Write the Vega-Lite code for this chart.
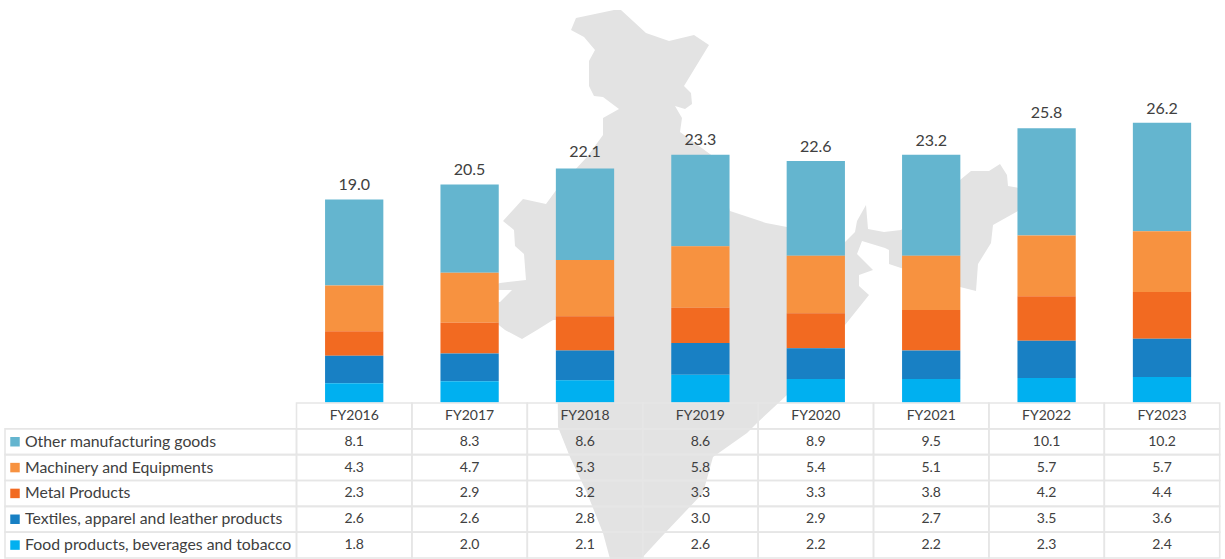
{
"$schema":"https://vega.github.io/schema/vega-lite/v6.json",
"width":1225,"height":559,"padding":0,
"autosize":{"type":"fit","contains":"padding"},
"background":"white",
"config":{"view":{"stroke":null}},
"datasets":{
"rows":[
{"fy":"FY2016","series":"Other manufacturing goods","rank":5,"value":8.1},
{"fy":"FY2016","series":"Machinery and Equipments","rank":4,"value":4.3},
{"fy":"FY2016","series":"Metal Products","rank":3,"value":2.3},
{"fy":"FY2016","series":"Textiles, apparel and leather products","rank":2,"value":2.6},
{"fy":"FY2016","series":"Food products, beverages and tobacco","rank":1,"value":1.8},
{"fy":"FY2017","series":"Other manufacturing goods","rank":5,"value":8.3},
{"fy":"FY2017","series":"Machinery and Equipments","rank":4,"value":4.7},
{"fy":"FY2017","series":"Metal Products","rank":3,"value":2.9},
{"fy":"FY2017","series":"Textiles, apparel and leather products","rank":2,"value":2.6},
{"fy":"FY2017","series":"Food products, beverages and tobacco","rank":1,"value":2.0},
{"fy":"FY2018","series":"Other manufacturing goods","rank":5,"value":8.6},
{"fy":"FY2018","series":"Machinery and Equipments","rank":4,"value":5.3},
{"fy":"FY2018","series":"Metal Products","rank":3,"value":3.2},
{"fy":"FY2018","series":"Textiles, apparel and leather products","rank":2,"value":2.8},
{"fy":"FY2018","series":"Food products, beverages and tobacco","rank":1,"value":2.1},
{"fy":"FY2019","series":"Other manufacturing goods","rank":5,"value":8.6},
{"fy":"FY2019","series":"Machinery and Equipments","rank":4,"value":5.8},
{"fy":"FY2019","series":"Metal Products","rank":3,"value":3.3},
{"fy":"FY2019","series":"Textiles, apparel and leather products","rank":2,"value":3.0},
{"fy":"FY2019","series":"Food products, beverages and tobacco","rank":1,"value":2.6},
{"fy":"FY2020","series":"Other manufacturing goods","rank":5,"value":8.9},
{"fy":"FY2020","series":"Machinery and Equipments","rank":4,"value":5.4},
{"fy":"FY2020","series":"Metal Products","rank":3,"value":3.3},
{"fy":"FY2020","series":"Textiles, apparel and leather products","rank":2,"value":2.9},
{"fy":"FY2020","series":"Food products, beverages and tobacco","rank":1,"value":2.2},
{"fy":"FY2021","series":"Other manufacturing goods","rank":5,"value":9.5},
{"fy":"FY2021","series":"Machinery and Equipments","rank":4,"value":5.1},
{"fy":"FY2021","series":"Metal Products","rank":3,"value":3.8},
{"fy":"FY2021","series":"Textiles, apparel and leather products","rank":2,"value":2.7},
{"fy":"FY2021","series":"Food products, beverages and tobacco","rank":1,"value":2.2},
{"fy":"FY2022","series":"Other manufacturing goods","rank":5,"value":10.1},
{"fy":"FY2022","series":"Machinery and Equipments","rank":4,"value":5.7},
{"fy":"FY2022","series":"Metal Products","rank":3,"value":4.2},
{"fy":"FY2022","series":"Textiles, apparel and leather products","rank":2,"value":3.5},
{"fy":"FY2022","series":"Food products, beverages and tobacco","rank":1,"value":2.3},
{"fy":"FY2023","series":"Other manufacturing goods","rank":5,"value":10.2},
{"fy":"FY2023","series":"Machinery and Equipments","rank":4,"value":5.7},
{"fy":"FY2023","series":"Metal Products","rank":3,"value":4.4},
{"fy":"FY2023","series":"Textiles, apparel and leather products","rank":2,"value":3.6},
{"fy":"FY2023","series":"Food products, beverages and tobacco","rank":1,"value":2.4}
],
"totals":[
{"fy":"FY2016","total":19.0},{"fy":"FY2017","total":20.5},{"fy":"FY2018","total":22.1},{"fy":"FY2019","total":23.3},
{"fy":"FY2020","total":22.6},{"fy":"FY2021","total":23.2},{"fy":"FY2022","total":25.8},{"fy":"FY2023","total":26.2}
],
"names":[
{"series":"Other manufacturing goods"},{"series":"Machinery and Equipments"},{"series":"Metal Products"},
{"series":"Textiles, apparel and leather products"},{"series":"Food products, beverages and tobacco"}
]
},
"resolve":{"scale":{"x":"independent","y":"independent"}},
"layer":[
{"data":{"values":{"type":"Feature","properties":{"name":"India"},"geometry":{"type":"Polygon","coordinates":[[
[61.4,1.0],[62.1,1.0],[64.6,3.3],[66.9,4.1],[69.4,3.5],[70.9,4.5],[68.4,8.6],[69.1,9.3],[69.2,10.4],[68.5,10.9],[67.5,10.6],[68.2,11.8],[68.0,13.2],[71.4,15.7],[73.0,21.1],[76.6,22.3],[78.7,22.7],[84.4,24.3],[85.5,23.2],[85.7,22.1],[86.6,20.5],[86.8,22.9],[88.4,23.2],[90.1,23.0],[96.0,18.0],[97.1,17.1],[98.9,17.1],[100.0,16.4],[100.7,17.5],[100.8,18.6],[103.0,19.0],[101.8,21.1],[99.3,22.5],[99.1,24.3],[97.8,26.4],[97.6,29.1],[96.0,28.7],[90.1,26.8],[88.9,26.4],[88.9,25.0],[88.5,24.8],[86.2,24.1],[85.7,25.4],[87.3,27.0],[85.9,27.5],[85.9,28.6],[86.9,29.5],[84.5,32.5],[78.7,39.5],[75.7,42.3],[74.7,43.3],[71.3,45.7],[70.3,49.3],[66.5,53.3],[64.0,56.0],[64.0,57.0],[61.3,57.0],[60.3,53.3],[58.7,49.3],[57.0,45.7],[55.8,42.7],[55.7,32.0],[55.3,32.0],[53.7,33.0],[52.2,33.9],[50.5,33.0],[48.0,31.0],[47.0,30.2],[50.0,30.2],[51.2,29.0],[48.0,29.0],[50.0,28.3],[52.6,28.0],[52.4,25.4],[51.5,24.6],[51.4,23.0],[50.3,22.1],[52.3,19.9],[54.6,20.4],[55.7,18.9],[58.7,15.7],[60.3,13.5],[60.3,11.8],[61.9,10.9],[60.3,9.7],[59.4,9.6],[58.9,8.6],[58.9,6.1],[59.5,5.0],[58.4,3.7],[57.1,3.0],[57.6,1.8],[61.4,1.0]
]]}}},
"mark":{"type":"geoshape","fill":"#E3E3E3","stroke":null,"clip":true},
"projection":{"type":"identity","scale":10,"translate":[0,0]}},
{"data":{"name":"rows"},
"mark":{"type":"bar","width":{"band":0.505}},
"encoding":{
"x":{"field":"fy","type":"nominal","axis":null,"scale":{"range":[296.5,1219.7],"paddingInner":0,"paddingOuter":0}},
"y":{"field":"value","type":"quantitative","stack":"zero","axis":null,"scale":{"domain":[0,37.85],"nice":false,"range":[402.5,0]}},
"color":{"field":"series","type":"nominal","legend":null,"scale":{"domain":["Other manufacturing goods","Machinery and Equipments","Metal Products","Textiles, apparel and leather products","Food products, beverages and tobacco"],"range":["#64B5CF","#F79240","#F26A21","#1880C4","#00B0F0"]}},
"order":{"field":"rank","type":"quantitative"}}},
{"data":{"name":"totals"},
"mark":{"type":"text","font":"Lato","fontSize":16,"color":"#404040","baseline":"bottom","dy":-7},
"encoding":{
"x":{"field":"fy","type":"nominal","axis":null,"scale":{"range":[296.5,1219.7],"paddingInner":0,"paddingOuter":0}},
"y":{"field":"total","type":"quantitative","axis":null,"scale":{"domain":[0,37.85],"nice":false,"range":[402.5,0]}},
"text":{"field":"total","type":"quantitative","format":".1f"}}},
{"data":{"name":"rows"},
"mark":{"type":"rect","fill":"transparent","stroke":"#E6E6E6","strokeWidth":1.6},
"encoding":{
"x":{"field":"fy","type":"nominal","axis":null,"scale":{"range":[296.5,1219.7],"paddingInner":0,"paddingOuter":0}},
"y":{"field":"series","type":"nominal","axis":null,"scale":{"domain":["Fiscal year","Other manufacturing goods","Machinery and Equipments","Metal Products","Textiles, apparel and leather products","Food products, beverages and tobacco"],"range":[403,558],"paddingInner":0,"paddingOuter":0}}}},
{"data":{"name":"totals"},
"mark":{"type":"rect","fill":"transparent","stroke":"#E6E6E6","strokeWidth":1.6},
"encoding":{
"x":{"field":"fy","type":"nominal","axis":null,"scale":{"range":[296.5,1219.7],"paddingInner":0,"paddingOuter":0}},
"y":{"datum":"Fiscal year","type":"nominal","axis":null,"scale":{"domain":["Fiscal year","Other manufacturing goods","Machinery and Equipments","Metal Products","Textiles, apparel and leather products","Food products, beverages and tobacco"],"range":[403,558],"paddingInner":0,"paddingOuter":0}}}},
{"data":{"name":"names"},
"mark":{"type":"rect","fill":"transparent","stroke":"#E6E6E6","strokeWidth":1.6},
"encoding":{
"x":{"datum":"Series","type":"nominal","axis":null,"scale":{"domain":["Series"],"range":[5,296.5],"paddingInner":0,"paddingOuter":0}},
"y":{"field":"series","type":"nominal","axis":null,"scale":{"domain":["Fiscal year","Other manufacturing goods","Machinery and Equipments","Metal Products","Textiles, apparel and leather products","Food products, beverages and tobacco"],"range":[403,558],"paddingInner":0,"paddingOuter":0}}}},
{"data":{"name":"rows"},
"mark":{"type":"text","font":"Lato","fontSize":14,"color":"#404040"},
"encoding":{
"x":{"field":"fy","type":"nominal","axis":null,"scale":{"range":[296.5,1219.7],"paddingInner":0,"paddingOuter":0}},
"y":{"field":"series","type":"nominal","axis":null,"scale":{"domain":["Fiscal year","Other manufacturing goods","Machinery and Equipments","Metal Products","Textiles, apparel and leather products","Food products, beverages and tobacco"],"range":[403,558],"paddingInner":0,"paddingOuter":0}},
"text":{"field":"value","type":"quantitative","format":".1f"}}},
{"data":{"name":"totals"},
"mark":{"type":"text","font":"Lato","fontSize":14,"color":"#404040"},
"encoding":{
"x":{"field":"fy","type":"nominal","axis":null,"scale":{"range":[296.5,1219.7],"paddingInner":0,"paddingOuter":0}},
"y":{"datum":"Fiscal year","type":"nominal","axis":null,"scale":{"domain":["Fiscal year","Other manufacturing goods","Machinery and Equipments","Metal Products","Textiles, apparel and leather products","Food products, beverages and tobacco"],"range":[403,558],"paddingInner":0,"paddingOuter":0}},
"text":{"field":"fy","type":"nominal"}}},
{"data":{"name":"names"},
"mark":{"type":"point","shape":"square","filled":true,"size":90,"opacity":1},
"encoding":{
"x":{"datum":"Key","type":"nominal","axis":null,"scale":{"domain":["Key"],"range":[10,20],"paddingInner":0,"paddingOuter":0}},
"y":{"field":"series","type":"nominal","axis":null,"scale":{"domain":["Fiscal year","Other manufacturing goods","Machinery and Equipments","Metal Products","Textiles, apparel and leather products","Food products, beverages and tobacco"],"range":[403,558],"paddingInner":0,"paddingOuter":0}},
"color":{"field":"series","type":"nominal","legend":null}}},
{"data":{"name":"names"},
"mark":{"type":"text","font":"Lato","fontSize":15.8,"color":"#404040","align":"left"},
"encoding":{
"x":{"datum":"Label","type":"nominal","axis":null,"scale":{"domain":["Label"],"range":[24.5,25.5],"paddingInner":0,"paddingOuter":0}},
"y":{"field":"series","type":"nominal","axis":null,"scale":{"domain":["Fiscal year","Other manufacturing goods","Machinery and Equipments","Metal Products","Textiles, apparel and leather products","Food products, beverages and tobacco"],"range":[403,558],"paddingInner":0,"paddingOuter":0}},
"text":{"field":"series","type":"nominal"}}}
]
}
